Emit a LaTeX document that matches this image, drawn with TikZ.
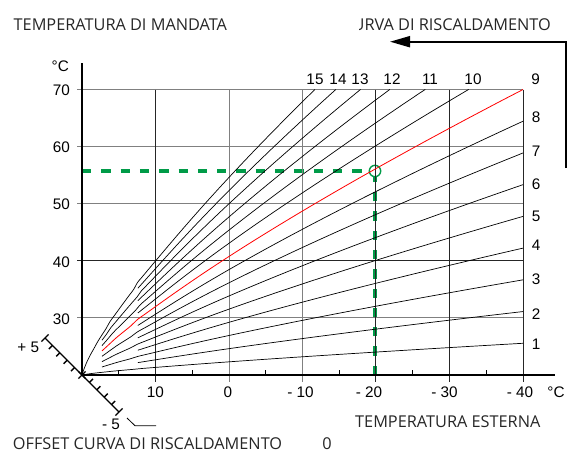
\documentclass[tikz,border=0pt]{standalone}
\usepackage{fontspec}
\setmainfont{Open Sans}
\newfontfamily\numfont{Liberation Sans}
\usetikzlibrary{arrows.meta}
\definecolor{grgreen}{RGB}{0,155,72}
\definecolor{gridgray}{RGB}{128,128,128}
\begin{document}
\begin{tikzpicture}[x=1pt,y=-1pt,
  num/.style={font=\numfont\fontsize{15.3}{16}\selectfont, inner sep=0pt},
  ttl/.style={font=\fontsize{16.3}{18}\selectfont, inner sep=0pt, text=black!85},
  gridg/.style={gridgray, line width=1pt},
  gridk/.style={black!85, line width=1pt},
  curve/.style={black, line width=0.7pt},
  redcurve/.style={red, line width=0.8pt},
  axis/.style={black, line width=2pt},
  greendash/.style={grgreen, line width=3.3pt, dash pattern=on 9.3pt off 10pt},
  thintick/.style={black, line width=1pt},
  scaletick/.style={black, line width=1.4pt},
]
\useasboundingbox (0,0) rectangle (568,453);

% operating point and green guide lines
\node[circle, draw=grgreen, line width=1.4pt, minimum size=11.4pt, inner sep=0pt] (op) at (375,171) {};
\coordinate (ya) at (82,171);
\coordinate (xa) at (375,375);
\draw[greendash] (ya) -- (op.west);
\draw[greendash] (xa) -- (op.south);

% grid
\foreach \y/\c in {89.5/gridg,146.6/gridg,203.7/gridg,260.8/gridk,317.9/gridg}
  \draw[\c] (77,\y) -- (523,\y);
\foreach \x/\c in {155.5/gridk,229/gridg,302.5/gridg,375/gridk,449.5/gridk,523/gridk}
  \draw[\c] (\x,89.5) -- (\x,382);

% heating curves
\foreach \k/\s/\st in {1/0.05/curve,2/7.6/curve,3/2.72/curve,4/7.6/curve,5/2.72/curve,
  6/7.6/curve,7/2.72/curve,8/7.6/curve,9/2.72/redcurve,10/7.6/curve,11/2.72/curve,
  12/7.6/curve,13/2.72/curve,14/7.6/curve,15/0.05/curve}{
  \pgfmathsetmacro\uend{min(60,60*(9/\k)^1.25)}
  \draw[\st] plot[domain=\s:\uend, samples=60, smooth] ({82+7.35*\x},{375-31.72*\k*(\x/60)^0.8});
}

% axes
\coordinate (O) at (82,375);
\coordinate (xend) at (555,375);
\coordinate (ytop) at (82,63);
\draw[axis] (O) -- (xend);
\draw[axis] (O) -- (ytop);
\foreach \x in {118.75,192.25,265.75,339.25,412.75,486.25}
  \draw[thintick] (\x,370) -- (\x,376);

% offset scale
\coordinate (sp) at (45,338);
\coordinate (sm) at (119,412);
\draw[scaletick] (sp) -- (sm);
\foreach \i in {1,...,4}{
  \draw[scaletick] (82-7.4*\i,375-7.4*\i) -- ++(-3.6,3.6);
  \draw[scaletick] (82+7.4*\i,375+7.4*\i) -- ++(3.6,-3.6);
}
\draw[scaletick] (sp) ++(-3.6,3.6) -- ++(7.2,-7.2);
\draw[scaletick] (sm) ++(-3.6,3.6) -- ++(7.2,-7.2);
\draw[scaletick] (O) ++(-3.6,3.6) -- ++(7.2,-7.2);
\draw[scaletick] (O) ++(-3.6,-3.6) -- ++(7.2,7.2);

% arrow
\coordinate (ab) at (566,168);
\coordinate (ac) at (566,41.7);
\coordinate (at) at (390,41.7);
\draw[line width=2pt, -{Triangle[length=20pt,width=11pt]}] (ab) -- (ac) -- (at);

% titles
\node[ttl, anchor=base west] (tmand) at (13.5,30) {TEMPERATURA DI MANDATA};
\begin{scope}
  \clip (359,0) rectangle (568,38);
  \node[ttl, anchor=base east] (tcurva) at (551,30) {CURVA DI RISCALDAMENTO};
\end{scope}
\node[ttl, anchor=base west] (test) at (355,427.3) {TEMPERATURA ESTERNA};
\node[ttl, anchor=base west] (toff) at (12.7,449.5) {OFFSET CURVA DI RISCALDAMENTO};
\node[ttl] (tzero) at (327,444) {0};

% y labels
\node[num, anchor=east] (yc) at (69,66) {°C};
\foreach \v/\y in {70/89.5,60/146.6,50/203.7,40/260.8,30/317.9}
  \node[num, anchor=east] (y\v) at (70,\y+1) {\v};

% x labels
\foreach \t/\x/\n in {10/155.5/a,0/228/b,- 10/300.5/c,- 20/369/d,- 30/444.5/e,- 40/520/f,°C/556/g}
  \node[num] (x\n) at (\x,392.5) {\t};

% curve labels top
\foreach \t/\x in {15/315,14/338,13/360,12/392,11/430,10/473,9/535.5}
  \node[num] (c\t) at (\x,79.5) {\t};
% curve labels right
\foreach \t/\y in {8/117.5,7/151,6/184,5/216,4/245,3/279,2/314,1/344}
  \node[num] (c\t) at (536,\y) {\t};

% offset labels
\node[num] (lp5) at (28.3,347.5) {+ 5};
\node[num] (lm5) at (111,424) {- 5};
\coordinate (ld1) at (127,418);
\coordinate (ld2) at (135,425.7);
\coordinate (ld3) at (156,425.7);
\draw[black, line width=0.8pt] (ld1) -- (ld2) -- (ld3);
\end{tikzpicture}
\end{document}
